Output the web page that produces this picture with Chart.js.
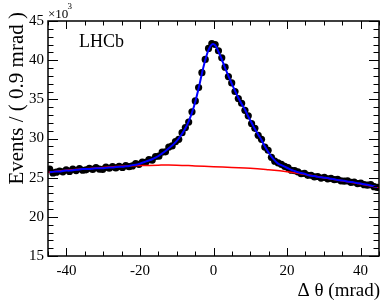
<!DOCTYPE html>
<html>
<head>
<meta charset="utf-8">
<script src="https://cdn.jsdelivr.net/npm/chart.js@4.4.0/dist/chart.umd.min.js"></script>
<style>
  body { margin: 0; background: #fff; }
  canvas { display: block; }
</style>
</head>
<body>
<canvas id="dthetaChart" width="392" height="303"></canvas>
<script>
// binning: 100 bins of 0.9 mrad from -45 to 45
const binLow = -45;
const binWidth = 0.9;

// events per bin (x10^3)
const dataValues = [
  26.1, 25.6, 25.7, 25.85, 25.75, 26.0, 25.8, 26.1, 25.9, 26.15,
  25.95, 26.0, 26.2, 26.05, 26.3, 26.1, 26.05, 26.35, 26.2, 26.4,
  26.25, 26.45, 26.3, 26.55, 26.4, 26.5, 26.8, 26.7, 27.0, 26.95,
  27.3, 27.25, 27.7, 27.75, 28.25, 28.3, 28.9, 29.05, 29.6, 29.9,
  30.75, 31.4, 32.1, 33.4, 34.8, 36.5, 38.4, 40.1, 41.5, 42.1,
  42.0, 41.2, 40.3, 39.1, 37.9, 37.1, 36.0, 35.1, 34.5, 33.6,
  32.9, 31.9, 31.3, 30.4, 29.9, 28.9, 28.5, 27.6, 27.1, 26.9,
  26.7, 26.45, 26.3, 25.95, 25.9, 25.75, 25.5, 25.55, 25.3, 25.3,
  25.1, 25.15, 24.95, 25.05, 24.85, 24.9, 24.75, 24.8, 24.6, 24.55,
  24.6, 24.4, 24.45, 24.25, 24.3, 24.1, 24.05, 24.1, 23.85, 23.75
];

// total fit (blue), evaluated at bin centres
const fitValues = [
  25.7, 25.75, 25.8, 25.8, 25.85, 25.9, 25.9, 25.95, 26.0, 26.05,
  26.1, 26.1, 26.1, 26.15, 26.2, 26.2, 26.2, 26.25, 26.3, 26.3,
  26.35, 26.4, 26.4, 26.45, 26.5, 26.6, 26.65, 26.75, 26.9, 27.05,
  27.2, 27.35, 27.55, 27.8, 28.1, 28.4, 28.75, 29.1, 29.5, 30.0,
  30.6, 31.3, 32.2, 33.3, 34.7, 36.4, 38.3, 40.0, 41.3, 42.0,
  41.9, 41.1, 40.1, 39.0, 38.0, 37.0, 36.1, 35.2, 34.4, 33.7,
  32.8, 32.0, 31.2, 30.5, 29.8, 29.0, 28.3, 27.7, 27.2, 26.8,
  26.6, 26.4, 26.2, 26.0, 25.85, 25.7, 25.6, 25.5, 25.35, 25.25,
  25.2, 25.1, 25.05, 25.0, 24.95, 24.85, 24.8, 24.7, 24.65, 24.6,
  24.5, 24.45, 24.4, 24.3, 24.25, 24.15, 24.1, 24.0, 23.9, 23.8
];

// background component (red)
const bkgX = [-45, -40, -35, -30, -25, -20, -15, -10, -5, 0, 5, 10, 15, 20, 25, 30, 35, 40, 45];
const bkgValues = [25.7, 25.95, 26.15, 26.3, 26.45, 26.55, 26.6, 26.6, 26.5, 26.4, 26.3, 26.2, 26.0, 25.75, 25.4, 25.0, 24.6, 24.2, 23.75];

const xTicks = [-40, -20, 0, 20, 40];
const yTicks = [15, 20, 25, 30, 35, 40, 45];

const serif = '"Liberation Serif", "DejaVu Serif", serif';

const binCentre = i => binLow + binWidth * (i + 0.5);
const dataPts = dataValues.map((v, i) => ({ x: binCentre(i), y: v }));
const fitPts = fitValues.map((v, i) => ({ x: binCentre(i), y: v }));
const bkgPts = bkgX.map((x, i) => ({ x: x, y: bkgValues[i] }));

// ROOT-like frame: inward ticks on all sides plus the text
const rootFrame = {
    id: 'rootFrame',
    afterDraw(chart) {
        const c = chart.ctx;
        const a = chart.chartArea;
        const xs = chart.scales.x;
        const ys = chart.scales.y;
        c.save();
        c.strokeStyle = '#000';
        c.lineWidth = 1.5;
        c.strokeRect(a.left, a.top, a.right - a.left, a.bottom - a.top);

        c.lineWidth = 1;
        c.beginPath();
        for (let v = -45; v <= 45; v += 5) {
            const px = Math.round(xs.getPixelForValue(v)) + 0.5;
            const len = v % 20 === 0 ? 8 : 4.5;
            c.moveTo(px, a.bottom); c.lineTo(px, a.bottom - len);
            c.moveTo(px, a.top); c.lineTo(px, a.top + len);
        }
        for (let v = 15; v <= 45; v += 1) {
            const py = Math.round(ys.getPixelForValue(v)) + 0.5;
            const len = v % 5 === 0 ? 10 : 5.5;
            c.moveTo(a.left, py); c.lineTo(a.left + len, py);
            c.moveTo(a.right, py); c.lineTo(a.right - len, py);
        }
        c.stroke();

        c.fillStyle = '#000';
        // exponent
        c.font = '13px ' + serif;
        c.textAlign = 'left';
        c.textBaseline = 'alphabetic';
        c.fillText('\u00d710', 48, 18);
        c.font = '9px ' + serif;
        c.fillText('3', 48 + c.measureText('\u00d710').width + 5.5, 9);

        // LHCb label
        c.font = '18px ' + serif;
        c.fillText('LHCb', 79, 47);

        // x title
        c.font = '19px ' + serif;
        c.textAlign = 'right';
        c.fillText('\u0394 \u03b8 (mrad)', 380, 296);

        // y title
        c.save();
        c.translate(23, 12);
        c.rotate(-Math.PI / 2);
        c.textAlign = 'right';
        c.font = '21px ' + serif;
        c.fillText('Events / ( 0.9 mrad )', 0, 0);
        c.restore();

        c.restore();
    }
};

const ctx = document.getElementById('dthetaChart').getContext('2d');
new Chart(ctx, {
    type: 'scatter',
    data: {
        datasets: [
            {
                type: 'line',
                label: 'Fit',
                data: fitPts,
                borderColor: '#0000ff',
                borderWidth: 2,
                pointRadius: 0,
                tension: 0.4,
                fill: false,
                order: 0
            },
            {
                type: 'line',
                label: 'Background',
                data: bkgPts,
                borderColor: '#ff0000',
                borderWidth: 1.5,
                pointRadius: 0,
                tension: 0.4,
                fill: false,
                order: 1
            },
            {
                label: 'Data',
                data: dataPts,
                backgroundColor: '#000',
                borderWidth: 0,
                pointRadius: 3.6,
                order: 2
            }
        ]
    },
    options: {
        responsive: false,
        animation: false,
        layout: { padding: { top: 21, right: 13, left: 0, bottom: 0 } },
        plugins: {
            legend: { display: false },
            tooltip: { enabled: false }
        },
        scales: {
            x: {
                type: 'linear',
                min: -45,
                max: 45,
                grid: { display: false, drawTicks: false },
                border: { display: false },
                afterBuildTicks: s => { s.ticks = xTicks.map(v => ({ value: v })); },
                afterFit: s => { s.height = 47; },
                ticks: {
                    color: '#000',
                    padding: 6,
                    maxRotation: 0,
                    font: { family: serif, size: 15 }
                }
            },
            y: {
                min: 15,
                max: 45,
                grid: { display: false, drawTicks: false },
                border: { display: false },
                afterBuildTicks: s => { s.ticks = yTicks.map(v => ({ value: v })); },
                afterFit: s => { s.width = 48; },
                ticks: {
                    color: '#000',
                    padding: 4,
                    font: { family: serif, size: 15 }
                }
            }
        }
    },
    plugins: [rootFrame]
});
</script>
</body>
</html>
